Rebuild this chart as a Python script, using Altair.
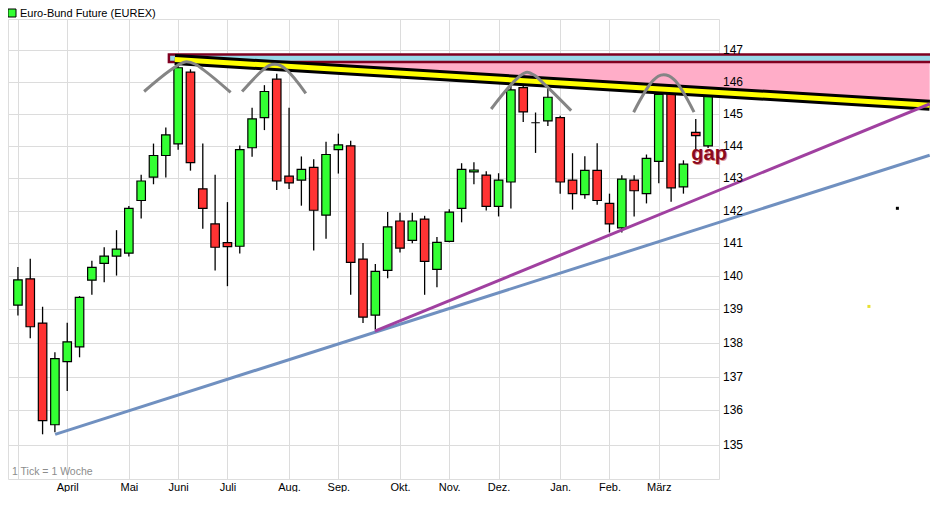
import altair as alt
import pandas as pd

W, H = 711, 460

TITLE = "Euro-Bund Future (EUREX)"
NOTE = "1 Tick = 1 Woche"
GAP_LABEL = "gap"

WEEKS = list(range(57))
OPEN = [139.13, 139.92, 138.59, 135.58, 137.44, 137.88, 139.88, 140.39, 140.61, 140.70,
        142.31, 143.03, 143.70, 144.06, 146.31, 142.67, 141.59, 141.02, 140.91, 143.94,
        144.88, 146.09, 143.06, 142.94, 143.33, 141.86, 143.88, 144.00, 140.52, 138.83,
        140.18, 141.68, 141.09, 141.74, 140.21, 141.06, 142.07, 143.19, 143.09, 142.13,
        142.88, 145.82, 144.72, 144.78, 144.88, 142.94, 142.49, 143.24, 142.22, 141.47,
        142.94, 142.52, 143.52, 145.77, 142.73, 144.42, 144.00]
HIGH = [140.28, 140.53, 139.08, 137.72, 138.60, 139.40, 140.47, 140.88, 141.40, 142.14,
        143.10, 144.07, 144.57, 146.70, 146.40, 144.07, 143.10, 142.26, 144.01, 145.19,
        145.90, 146.26, 145.19, 143.67, 143.58, 144.13, 144.38, 144.16, 141.01, 140.37,
        141.96, 141.93, 141.93, 141.84, 141.19, 142.04, 143.46, 143.49, 143.21, 143.15,
        145.94, 146.19, 145.04, 145.80, 144.94, 143.77, 143.68, 144.08, 142.52, 143.09,
        143.09, 143.73, 145.70, 145.85, 143.55, 144.84, 145.62]
LOW = [138.82, 138.14, 135.30, 135.36, 136.57, 137.57, 139.44, 139.82, 140.02, 140.60,
       141.76, 142.81, 143.02, 143.88, 143.23, 141.44, 140.17, 139.70, 140.69, 143.66,
       144.49, 142.63, 142.66, 142.15, 140.78, 141.14, 143.14, 139.44, 138.59, 138.40,
       139.94, 140.72, 141.00, 139.44, 139.67, 141.03, 141.64, 142.81, 142.00, 141.82,
       142.06, 144.74, 143.78, 144.62, 142.52, 142.03, 142.36, 142.18, 141.33, 141.33,
       141.82, 142.22, 142.84, 142.27, 142.52, 143.83, 143.93]
CLOSE = [139.89, 138.48, 135.70, 137.53, 138.03, 139.36, 140.27, 140.61, 140.82, 142.07,
         142.91, 143.70, 144.34, 146.45, 143.48, 142.07, 140.88, 140.90, 143.88, 144.84,
         145.70, 142.91, 142.85, 143.27, 142.01, 143.73, 144.03, 140.42, 138.77, 140.15,
         141.50, 140.85, 141.68, 140.45, 141.03, 141.95, 143.27, 143.25, 142.13, 142.94,
         145.75, 145.06, 144.72, 145.52, 142.88, 142.52, 143.24, 142.31, 141.59, 142.97,
         142.61, 143.61, 145.61, 142.70, 143.43, 144.32, 145.55]

MONTH_WEEKS = [0, 4, 9, 13, 17, 22, 26, 31, 35, 39, 44, 48, 52]
MONTH_LABELS = ["", "April", "Mai", "Juni", "Juli", "Aug.", "Sep.", "Okt.", "Nov.",
                "Dez.", "Jan.", "Feb.", "März"]
PRICE_TICKS = list(range(135, 148))

# hand-drawn annotations, in (week, price)
BLUE_X, BLUE_Y = [3.02, 73.98], [135.30, 143.71]
PURPLE_X, PURPLE_Y = [28.96, 73.98], [138.35, 145.31]
BAND_X, BAND_Y = [12.73, 73.98], [146.71, 145.27]
ZONE_X, ZONE_LO, ZONE_HI = [12.25, 80.0], 146.63, 146.87
ARC_X = [
    [10.24, 12.33, 12.97, 13.68, 14.40, 15.03, 17.26],
    [18.19, 19.89, 20.36, 20.84, 21.32, 21.80, 23.36],
    [38.40, 40.17, 40.73, 41.31, 41.92, 42.56, 44.89],
    [49.96, 51.55, 51.95, 52.40, 52.82, 53.22, 54.86],
]
ARC_Y = [
    [145.70, 146.36, 146.53, 146.64, 146.56, 146.39, 145.67],
    [145.70, 146.38, 146.52, 146.56, 146.52, 146.38, 145.64],
    [145.15, 145.98, 146.19, 146.31, 146.21, 145.99, 145.10],
    [145.05, 146.05, 146.18, 146.23, 146.19, 146.08, 145.05],
]
GAP_POS = (56.08, 143.56)
DOTS_X, DOTS_Y, DOTS_C = [71.36, 69.05], [142.07, 139.09], ["#000000", "#e8e030"]

FONT = "Liberation Sans"

candles = pd.DataFrame({"week": WEEKS, "open": OPEN, "high": HIGH, "low": LOW, "close": CLOSE})
candles["dir"] = ["up" if c > o else ("down" if c < o else "flat") for o, c in zip(OPEN, CLOSE)]

xs = alt.Scale(domain=[-0.4, 56.48], nice=False, zero=False)
ys = alt.Scale(type="log", domain=[134, 148], nice=False)

label_expr = ("[" + ",".join("'" + m + "'" for m in MONTH_LABELS) + "][indexof(["
              + ",".join(str(v) for v in MONTH_WEEKS) + "], datum.value)]")

x_axis = alt.Axis(values=MONTH_WEEKS, labelExpr=label_expr, grid=True, gridColor="#dcdcdc",
                  ticks=False, domain=False, title=None, labelFont=FONT, labelFontSize=11,
                  labelColor="black", labelPadding=2, labelFlush=False, labelOverlap=False)
y_axis = alt.Axis(orient="right", values=PRICE_TICKS, grid=True, gridColor="#dcdcdc",
                  labels=False, ticks=False, domain=False, title=None)


def X(field):
    return alt.X(field, scale=xs, axis=x_axis)


def Y(field):
    return alt.Y(field, scale=ys, axis=y_axis)


base = alt.Chart(candles)
wicks = base.mark_rule(color="black", strokeWidth=1.3).encode(
    x=X("week:Q"), y=Y("low:Q"), y2="high:Q")
bodies = base.mark_bar(size=8.5, stroke="black", strokeWidth=1.2).encode(
    x=X("week:Q"), y=Y("open:Q"), y2="close:Q",
    color=alt.Color("dir:N", scale=alt.Scale(domain=["up", "down", "flat"],
                                             range=["#33ff33", "#ff3333", "#000000"]),
                    legend=None),
)

band_df = pd.DataFrame({"week": BAND_X, "price": BAND_Y, "base": [ZONE_LO, ZONE_LO]})
pink = alt.Chart(band_df).mark_area(color="#ffadc8", opacity=1).encode(
    x=X("week:Q"), y=Y("price:Q"), y2="base:Q")
zone_df = pd.DataFrame({"x0": [ZONE_X[0]], "x1": [ZONE_X[1]], "lo": [ZONE_LO], "hi": [ZONE_HI]})
zone = alt.Chart(zone_df).mark_rect(fill="#98d8e8", stroke="#800020", strokeWidth=2.5).encode(
    x=X("x0:Q"), x2="x1:Q", y=Y("lo:Q"), y2="hi:Q")
band_black = alt.Chart(band_df).mark_line(color="black", strokeWidth=11, strokeCap="butt").encode(
    x=X("week:Q"), y=Y("price:Q"))
band_yellow = alt.Chart(band_df).mark_line(color="#ffff00", strokeWidth=5, strokeCap="butt").encode(
    x=X("week:Q"), y=Y("price:Q"))

blue = alt.Chart(pd.DataFrame({"week": BLUE_X, "price": BLUE_Y})).mark_line(
    color="#7090c0", strokeWidth=3).encode(x=X("week:Q"), y=Y("price:Q"))
purple = alt.Chart(pd.DataFrame({"week": PURPLE_X, "price": PURPLE_Y})).mark_line(
    color="#a040a0", strokeWidth=3).encode(x=X("week:Q"), y=Y("price:Q"))

arc_rows = []
for i, (ax, ay) in enumerate(zip(ARC_X, ARC_Y)):
    for j, (a, b) in enumerate(zip(ax, ay)):
        arc_rows.append({"arc": i, "seq": j, "week": a, "price": b})
arcs = alt.Chart(pd.DataFrame(arc_rows)).mark_line(
    color="#858585", strokeWidth=3, interpolate="monotone").encode(
    x=X("week:Q"), y=Y("price:Q"), detail="arc:N", order="seq:Q")

gap_df = pd.DataFrame({"week": [GAP_POS[0]], "price": [GAP_POS[1]], "t": [GAP_LABEL]})
gap_shadow = alt.Chart(gap_df).mark_text(font=FONT, fontWeight="bold", fontSize=20,
                                         color="#e09090", align="center", baseline="alphabetic",
                                         dx=1, dy=1).encode(
    x=X("week:Q"), y=Y("price:Q"), text="t:N")
gap_text = alt.Chart(gap_df).mark_text(font=FONT, fontWeight="bold", fontSize=20,
                                       color="#8b0a1e", align="center",
                                       baseline="alphabetic").encode(
    x=X("week:Q"), y=Y("price:Q"), text="t:N")

dots = alt.Chart(pd.DataFrame({"week": DOTS_X, "price": DOTS_Y, "c": DOTS_C})).mark_square(
    size=9, opacity=1).encode(
    x=X("week:Q"), y=Y("price:Q"), color=alt.Color("c:N", scale=None))

price_labels = alt.Chart(pd.DataFrame({"price": PRICE_TICKS,
                                       "lab": [str(p) for p in PRICE_TICKS]})).mark_text(
    font=FONT, fontSize=12, align="left", baseline="middle", color="black", dx=4).encode(
    x=alt.value(W), y=Y("price:Q"), text="lab:N")

title_df = pd.DataFrame({"t": [TITLE]})
legend_sq = alt.Chart(title_df).mark_square(size=64, color="#33ff33", stroke="black",
                                            strokeWidth=1, opacity=1).encode(
    x=alt.value(4), y=alt.value(-6))
legend_txt = alt.Chart(title_df).mark_text(font=FONT, fontSize=11, align="left",
                                           baseline="alphabetic", color="black").encode(
    x=alt.value(12), y=alt.value(-2), text="t:N")
note = alt.Chart(pd.DataFrame({"t": [NOTE]})).mark_text(
    font=FONT, fontSize=10.5, align="left", baseline="middle", color="#8c8c8c").encode(
    x=alt.value(4), y=alt.value(H - 7), text="t:N")

chart = alt.layer(
    wicks, bodies, pink, zone, band_black, band_yellow, blue, purple, arcs,
    gap_shadow, gap_text, dots, price_labels, legend_sq, legend_txt, note,
).properties(
    width=W, height=H,
    autosize=alt.AutoSizeParams(type="none"),
    padding={"left": 0, "top": 11, "right": 922 - W, "bottom": 13},
).configure_view(stroke="#c8c8c8", strokeWidth=1).configure(font=FONT)

chart.save("out.html", embed_options={"renderer": "svg", "actions": False})
